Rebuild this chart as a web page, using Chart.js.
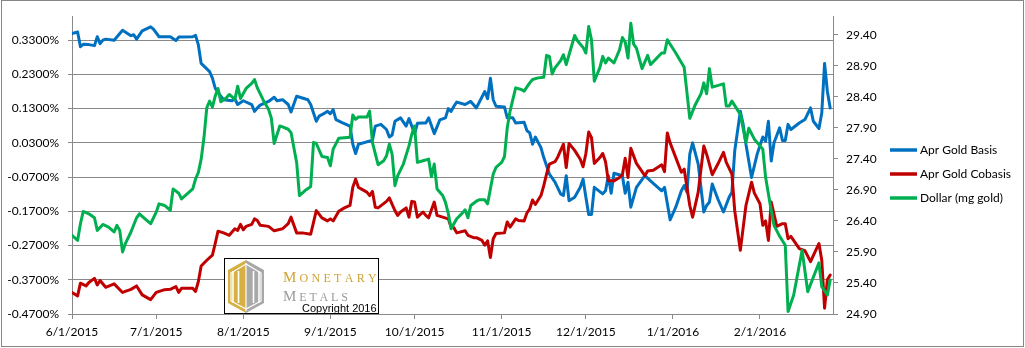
<!DOCTYPE html>
<html>
<head>
<meta charset="utf-8">
<title>Apr Gold Basis, Cobasis and Dollar</title>
<script src="https://cdn.jsdelivr.net/npm/chart.js@4.4.1/dist/chart.umd.min.js"></script>
<style>
  html, body { margin: 0; padding: 0; background: #fff; }
  canvas { display: block; }
</style>
</head>
<body>
<canvas id="chart" width="1025" height="348"></canvas>
<script>
// Dates are stored as day offsets from 6/1/2015.
const START_DATE = Date.UTC(2015, 5, 1);

const tickLabels = ["6/1/2015", "7/1/2015", "8/1/2015", "9/1/2015", "10/1/2015",
                    "11/1/2015", "12/1/2015", "1/1/2016", "2/1/2016"];
const pctTicks = [-0.47, -0.37, -0.27, -0.17, -0.07, 0.03, 0.13, 0.23, 0.33];
const dollarTicks = [24.9, 25.4, 25.9, 26.4, 26.9, 27.4, 27.9, 28.4, 28.9, 29.4];

const seriesNames = ["Apr Gold Basis", "Apr Gold Cobasis", "Dollar (mg gold)"];
const seriesColors = ["#0070C0", "#C00000", "#00B050"];

// Apr Gold Basis, in percent
const basisDay = [0,2,3,4,6,8,9,10,11,12,15,18,21,22,23,25,28,29,31,35,37,38,43,44,45,46,49,50,51,53,54,57,58,59,61,64,
  65,66,67,70,72,73,75,77,78,80,82,84,85,87,88,90,91,92,93,94,96,99,100,101,102,105,107,108,110,112,113,114,115,117,119,120,122,123,125,126,127,129,131,
  133,134,135,136,137,140,142,144,147,148,149,150,151,154,155,157,158,161,162,163,164,165,167,168,170,172,174,175,176,177,179,181,182,183,184,185,186,189,190,191,192,193,196,197,198,199,
  201,204,206,210,211,213,215,217,218,219,220,221,223,225,226,227,228,230,232,234,235,236,238,239,240,242,244,246,247,248,249,250,252,253,254,255,256,259,261,263,264,266,267,268,269,270];
const basisPct = [0.349,0.354,0.311,0.318,0.317,0.314,0.340,0.320,0.330,0.333,0.330,0.359,0.343,0.346,0.333,0.357,0.369,0.362,0.340,0.340,0.329,0.339,0.340,0.344,0.316,0.262,0.238,0.219,0.190,0.166,0.156,0.153,0.158,0.142,0.153,0.142,
  0.122,0.132,0.140,0.151,0.163,0.153,0.156,0.142,0.120,0.166,0.161,0.156,0.142,0.093,0.108,0.117,0.122,0.115,0.127,0.098,0.090,0.079,0.026,-0.001,0.026,0.033,0.037,0.079,0.084,0.069,0.047,0.053,0.093,0.103,0.079,0.101,0.057,0.087,0.088,0.088,0.103,0.057,0.097,
  0.103,0.130,0.122,0.137,0.149,0.142,0.151,0.132,0.180,0.159,0.219,0.156,0.137,0.135,0.103,0.103,0.088,0.090,0.066,0.059,0.026,0.047,0.016,-0.013,-0.061,-0.085,-0.119,-0.124,-0.066,-0.139,-0.129,-0.100,-0.076,-0.129,-0.179,-0.179,-0.100,-0.119,-0.110,-0.066,-0.117,-0.059,-0.066,-0.117,-0.085,-0.158,
  -0.100,-0.066,-0.081,-0.110,-0.100,-0.195,-0.158,-0.110,-0.095,-0.114,-0.003,0.030,-0.032,-0.172,-0.153,-0.143,-0.090,-0.134,-0.172,-0.129,-0.114,0.006,0.122,0.084,0.026,-0.071,-0.003,0.047,0.035,0.093,-0.023,0.030,0.074,0.037,0.037,0.084,0.069,0.088,0.098,0.132,0.093,0.072,0.117,0.262,0.180,0.132];

// Apr Gold Cobasis, in percent
const cobasisDay = [0,2,3,5,6,8,9,10,12,15,18,21,23,25,28,30,33,35,37,38,39,43,44,45,46,48,50,51,52,54,56,58,59,60,61,62,64,
  65,66,67,70,72,75,77,78,80,82,85,87,89,91,92,93,95,97,99,100,101,102,105,106,107,108,109,112,113,115,116,117,119,120,121,122,123,125,126,127,129,130,132,
  134,135,136,137,140,141,143,144,146,147,148,149,150,151,154,155,156,158,159,161,162,163,164,165,167,168,169,170,172,173,175,176,177,179,181,182,183,184,185,186,188,189,190,191,193,195,196,197,198,199,
  200,201,204,205,207,210,211,212,213,217,218,220,221,223,225,226,228,230,232,233,235,236,238,240,242,243,245,246,247,248,249,251,253,254,255,256,259,261,263,266,267,268,269,270];
const cobasisPct = [-0.407,-0.417,-0.380,-0.388,-0.378,-0.366,-0.385,-0.372,-0.392,-0.382,-0.407,-0.398,-0.388,-0.414,-0.428,-0.407,-0.399,-0.398,-0.390,-0.407,-0.395,-0.395,-0.404,-0.375,-0.330,-0.313,-0.298,-0.264,-0.228,-0.233,-0.240,-0.221,-0.226,-0.208,-0.224,-0.214,-0.208,
  -0.192,-0.197,-0.211,-0.214,-0.227,-0.221,-0.206,-0.187,-0.233,-0.233,-0.237,-0.168,-0.189,-0.198,-0.192,-0.198,-0.170,-0.160,-0.153,-0.100,-0.076,-0.100,-0.114,-0.124,-0.112,-0.158,-0.160,-0.141,-0.131,-0.168,-0.182,-0.172,-0.160,-0.187,-0.141,-0.143,-0.187,-0.172,-0.182,-0.189,-0.143,-0.182,-0.187,
  -0.192,-0.216,-0.218,-0.233,-0.227,-0.240,-0.247,-0.247,-0.255,-0.269,-0.256,-0.305,-0.250,-0.235,-0.233,-0.201,-0.216,-0.192,-0.197,-0.198,-0.175,-0.163,-0.137,-0.150,-0.124,-0.095,-0.061,-0.032,-0.025,-0.011,0.026,-0.042,0.028,0.008,-0.018,-0.040,-0.001,0.062,0.045,-0.030,-0.013,-0.001,-0.025,-0.081,-0.081,-0.071,-0.063,-0.015,-0.071,0.014,
  -0.008,-0.030,-0.066,-0.052,-0.050,-0.034,-0.054,0.059,0.030,-0.056,-0.047,-0.153,-0.187,-0.114,0.021,-0.003,-0.063,-0.032,0.002,-0.027,-0.061,-0.168,-0.284,-0.153,-0.085,-0.117,-0.148,-0.211,-0.198,-0.255,-0.143,-0.214,-0.206,-0.206,-0.250,-0.243,-0.279,-0.285,-0.317,-0.264,-0.313,-0.453,-0.370,-0.356];

// Dollar priced in milligrams of gold
const dollarDay = [0,2,3,4,6,8,9,11,13,15,16,17,18,19,21,23,24,26,28,30,31,33,35,36,38,39,41,43,44,45,46,47,48,49,50,51,52,53,55,56,58,59,60,62,64,
  65,66,68,70,71,72,74,75,77,78,80,81,83,85,86,87,89,91,92,93,95,99,100,101,102,105,106,107,109,111,112,113,114,115,116,118,120,121,122,123,125,127,128,129,130,132,
  133,134,135,137,139,140,141,142,144,145,147,148,150,151,153,154,155,156,157,158,160,161,163,164,166,168,169,170,171,172,174,175,176,177,179,180,182,183,184,185,186,188,189,190,191,193,195,196,197,198,199,
  200,201,203,205,206,210,211,212,215,218,220,222,224,225,226,227,228,232,233,234,235,238,240,241,243,246,247,249,250,252,254,255,257,260,262,266,267,269,270];
const dollarMg = [26.168,26.088,26.355,26.553,26.515,26.451,26.248,26.344,26.302,26.222,26.328,26.248,25.901,26.035,26.222,26.451,26.515,26.435,26.355,26.542,26.676,26.649,26.569,26.916,26.847,26.756,26.836,26.916,27.076,27.183,27.397,27.744,28.225,28.332,28.235,28.412,28.535,28.321,28.385,28.438,28.358,28.572,28.374,28.535,28.617,
  28.679,28.545,28.358,28.198,28.054,27.648,27.931,27.915,27.878,27.824,27.343,26.809,26.889,26.953,27.664,27.648,27.440,27.424,27.290,27.557,27.733,27.750,28.107,28.038,28.075,28.075,28.171,27.664,27.306,27.370,27.450,27.637,27.477,26.969,27.130,27.317,27.610,27.797,27.931,27.343,27.370,27.397,27.114,27.317,26.916,26.810,
  26.700,26.520,26.275,26.435,26.526,26.579,26.451,26.649,26.718,26.740,26.740,26.676,27.156,27.263,27.343,27.434,27.904,28.171,28.358,28.545,28.519,28.492,28.625,28.679,28.706,28.716,29.069,29.053,28.770,28.866,28.983,29.079,28.919,29.079,29.389,29.304,29.197,29.106,29.534,29.320,28.652,28.876,29.053,28.946,29.026,28.946,29.160,29.357,29.282,29.026,29.587,
  29.250,29.186,28.855,29.069,28.919,29.106,29.106,29.320,29.106,28.876,28.054,28.278,28.449,28.625,28.449,28.855,28.556,28.609,28.251,28.251,28.332,28.118,27.664,27.894,27.718,27.557,27.103,26.569,26.328,26.152,26.008,24.940,25.207,25.928,25.260,25.725,25.340,25.207,25.447];

const DAY_MS = 86400000;
function dayOf(label) {
  const [m, d, y] = label.split('/').map(Number);
  return Math.round((Date.UTC(y, m - 1, d) - START_DATE) / DAY_MS);
}
const tickDays = tickLabels.map(dayOf);
const pairs = (xs, ys) => xs.map((x, i) => ({ x, y: ys[i] }));

const AXIS_GRAY = '#898989';
const FONT = 'Lato, "Open Sans", sans-serif';

Chart.defaults.font.family = FONT;
Chart.defaults.font.size = 12;
Chart.defaults.color = '#000';

// White page with a thin gray frame
const framePlugin = {
  id: 'frame',
  beforeDraw(chart) {
    const c = chart.ctx;
    c.save();
    c.fillStyle = '#fff';
    c.fillRect(0, 0, chart.width, chart.height);
    c.restore();
  },
  afterDraw(chart) {
    const c = chart.ctx;
    c.save();
    c.strokeStyle = '#868686';
    c.lineWidth = 1;
    c.strokeRect(1.5, 0.5, chart.width - 3, chart.height - 2);
    c.restore();
  }
};

// Legend to the right of the secondary axis
const sideLegend = {
  id: 'sideLegend',
  afterDraw(chart) {
    const c = chart.ctx;
    c.save();
    c.font = '12px ' + FONT;
    c.textBaseline = 'middle';
    c.textAlign = 'left';
    chart.data.datasets.forEach((ds, i) => {
      const y = 150 + i * 24;
      c.strokeStyle = ds.borderColor;
      c.lineWidth = 3.5;
      c.lineCap = 'butt';
      c.beginPath();
      c.moveTo(890, y);
      c.lineTo(917, y);
      c.stroke();
      c.fillStyle = '#000';
      c.fillText(ds.label, 920, y);
    });
    c.restore();
  }
};

// Spaced small-caps word: a larger first letter, the rest spread to a right edge
function spacedCaps(c, word, x, baseline, right, color) {
  const first = word[0], rest = word.slice(1);
  const bigFont = '15px "Liberation Serif", serif';
  const smallFont = '12px "Liberation Serif", serif';
  c.font = bigFont;
  const w1 = c.measureText(first).width;
  c.font = smallFont;
  const wr = c.measureText(rest).width;
  const gap = (right - x - w1 - wr) / rest.length;
  c.fillStyle = color;
  c.font = bigFont;
  c.fillText(first, x, baseline);
  c.font = smallFont;
  let cx = x + w1 + gap;
  for (const ch of rest) {
    c.fillText(ch, cx, baseline);
    cx += c.measureText(ch).width + gap;
  }
}

// Monetary Metals badge in the lower left of the plot
const badge = {
  id: 'badge',
  afterDatasetsDraw(chart) {
    const c = chart.ctx;
    c.save();
    c.fillStyle = '#fff';
    c.fillRect(224, 258, 155, 56);
    c.strokeStyle = '#000';
    c.lineWidth = 1;
    c.strokeRect(224.5, 258.5, 154, 55);

    // hexagon mark: gold left half, gray right half
    const cx = 246, top = 260, bot = 313, l = 228, r = 264, up = 270, lo = 303;
    c.fillStyle = '#D7B042';
    c.beginPath();
    c.moveTo(cx, top); c.lineTo(l, up); c.lineTo(l, lo); c.lineTo(cx, bot); c.closePath();
    c.fill();
    c.fillStyle = '#A8A8A8';
    c.beginPath();
    c.moveTo(cx, top); c.lineTo(r, up); c.lineTo(r, lo); c.lineTo(cx, bot); c.closePath();
    c.fill();
    c.strokeStyle = '#fff';
    c.lineWidth = 1.6;
    [233, 238.5, 253.5, 259].forEach(x => {
      c.beginPath(); c.moveTo(x, 271); c.lineTo(x, 303); c.stroke();
    });
    c.lineWidth = 1.2;
    c.beginPath(); c.moveTo(cx, 263); c.lineTo(cx, 311); c.stroke();
    c.beginPath();
    c.moveTo(cx, 264); c.lineTo(231, 273); c.lineTo(231, 301); c.lineTo(cx, 309);
    c.lineTo(261, 301); c.lineTo(261, 273); c.closePath();
    c.stroke();

    c.textBaseline = 'alphabetic';
    c.textAlign = 'left';
    spacedCaps(c, 'MONETARY', 283, 282, 375, '#CFA334');
    spacedCaps(c, 'METALS', 283, 300.5, 347, '#9B9B9B');
    c.fillStyle = '#000';
    c.font = '11px "Liberation Sans", Arial, sans-serif';
    c.fillText('Copyright 2016', 302, 311.5);
    c.restore();
  }
};

new Chart(document.getElementById('chart'), {
  type: 'line',
  data: {
    datasets: [
      { label: seriesNames[0], data: pairs(basisDay, basisPct), yAxisID: 'y',
        borderColor: seriesColors[0], order: 3 },
      { label: seriesNames[1], data: pairs(cobasisDay, cobasisPct), yAxisID: 'y',
        borderColor: seriesColors[1], order: 2 },
      { label: seriesNames[2], data: pairs(dollarDay, dollarMg), yAxisID: 'y1',
        borderColor: seriesColors[2], order: 1 }
    ]
  },
  options: {
    responsive: false,
    animation: false,
    devicePixelRatio: 1,
    layout: { padding: { left: 0, right: 0, top: 15, bottom: 0 } },
    elements: {
      line: { borderWidth: 3, tension: 0, borderJoinStyle: 'round', borderCapStyle: 'round', fill: false },
      point: { radius: 0, hoverRadius: 0 }
    },
    plugins: {
      legend: { display: false },
      tooltip: { enabled: false },
      title: { display: false }
    },
    scales: {
      x: {
        type: 'linear',
        min: 0,
        max: 271,
        afterBuildTicks: s => { s.ticks = tickDays.map(v => ({ value: v })); },
        afterFit: s => { s.height = 34; },
        ticks: {
          autoSkip: false, maxRotation: 0, minRotation: 0, padding: 6,
          callback: (v, i) => tickLabels[i]
        },
        grid: { drawOnChartArea: false, drawTicks: true, tickLength: 5, color: AXIS_GRAY },
        border: { display: true, color: AXIS_GRAY }
      },
      y: {
        position: 'left',
        min: -0.47,
        max: 0.40,
        afterBuildTicks: s => { s.ticks = pctTicks.map(v => ({ value: v })); },
        afterFit: s => { s.width = 72; },
        ticks: { padding: 9, callback: v => v.toFixed(4) + '%' },
        grid: { color: AXIS_GRAY, tickLength: 4 },
        border: { display: true, color: AXIS_GRAY }
      },
      y1: {
        position: 'right',
        min: 24.9,
        max: 29.7,
        afterBuildTicks: s => { s.ticks = dollarTicks.map(v => ({ value: v })); },
        afterFit: s => { s.width = 192; },
        ticks: { padding: 8, callback: v => v.toFixed(2) },
        grid: { drawOnChartArea: false, tickLength: 5, color: AXIS_GRAY },
        border: { display: true, color: AXIS_GRAY }
      }
    }
  },
  plugins: [framePlugin, badge, sideLegend]
});
</script>
</body>
</html>
